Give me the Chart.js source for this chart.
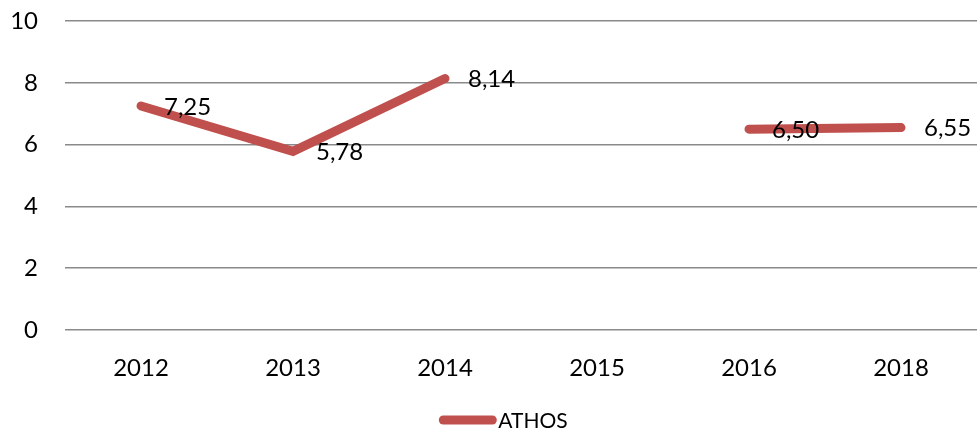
<!DOCTYPE html>
<html>
<head>
<meta charset="utf-8">
<script src="https://cdn.jsdelivr.net/npm/chart.js@4.4.0/dist/chart.umd.min.js"></script>
<style>
  html, body { margin: 0; padding: 0; background: #fff; }
  #wrap { width: 977px; height: 430px; }
</style>
</head>
<body>
<div id="wrap"><canvas id="athos-chart"></canvas></div>
<script>
const years = ['2012', '2013', '2014', '2015', '2016', '2018'];
const athosValues = [7.25, 5.78, 8.14, null, 6.50, 6.55];
const yTicks = [0, 2, 4, 6, 8, 10];
const seriesName = 'ATHOS';

const lineColor = '#C0504D';
const fontFamily = 'Lato, "Open Sans", sans-serif';

// values next to each point, comma as decimal mark
const valueLabels = {
    id: 'valueLabels',
    afterDatasetsDraw(chart) {
        const ctx = chart.ctx;
        const meta = chart.getDatasetMeta(0);
        ctx.save();
        ctx.font = '24px ' + fontFamily;
        ctx.fillStyle = '#000';
        ctx.textAlign = 'left';
        ctx.textBaseline = 'middle';
        meta.data.forEach((pt, i) => {
            const v = athosValues[i];
            if (v === null) return;
            ctx.fillText(v.toFixed(2).replace('.', ','), pt.x + 23, pt.y + 1);
        });
        ctx.restore();
    }
};

// legend under the axis: thick line sample + name
const bottomLegend = {
    id: 'bottomLegend',
    afterDraw(chart) {
        const ctx = chart.ctx;
        ctx.save();
        ctx.font = '21px ' + fontFamily;
        const textW = ctx.measureText(seriesName).width;
        const sampleW = 57;
        const total = sampleW + 2 + textW;
        const left = (chart.width - total) / 2 + 15;
        const y = chart.height - 10;
        ctx.strokeStyle = lineColor;
        ctx.lineWidth = 9;
        ctx.lineCap = 'round';
        ctx.beginPath();
        ctx.moveTo(left + 4, y);
        ctx.lineTo(left + sampleW - 4, y);
        ctx.stroke();
        ctx.fillStyle = '#000';
        ctx.textBaseline = 'middle';
        ctx.fillText(seriesName, left + sampleW + 2, y + 1);
        ctx.restore();
    }
};

const chart = new Chart(document.getElementById('athos-chart'), {
    type: 'line',
    data: {
        labels: years,
        datasets: [{
            label: seriesName,
            data: athosValues,
            borderColor: lineColor,
            backgroundColor: lineColor,
            borderWidth: 9,
            borderCapStyle: 'round',
            borderJoinStyle: 'miter',
            pointRadius: 0,
            pointHoverRadius: 0,
            spanGaps: false,
            tension: 0
        }]
    },
    options: {
        responsive: true,
        maintainAspectRatio: false,
        animation: false,
        layout: { padding: { top: 21, right: 0, bottom: 0, left: 0 } },
        plugins: {
            legend: { display: false },
            tooltip: { enabled: false }
        },
        scales: {
            x: {
                offset: true,
                grid: { display: false, drawTicks: false },
                border: { display: false },
                ticks: {
                    color: '#000',
                    font: { family: fontFamily, size: 24 },
                    padding: 24,
                    maxRotation: 0
                },
                afterFit(scale) { scale.height = 100; }
            },
            y: {
                min: 0,
                max: 10,
                afterBuildTicks(scale) { scale.ticks = yTicks.map(v => ({ value: v })); },
                grid: { color: '#8a8a8a', lineWidth: 1.5, drawTicks: false },
                border: { display: false },
                ticks: {
                    color: '#000',
                    font: { family: fontFamily, size: 24 },
                    padding: 27
                },
                afterFit(scale) {
                    scale.width = 65;
                    scale.paddingTop = 0;
                    scale.paddingBottom = 0;
                }
            }
        }
    },
    plugins: [valueLabels, bottomLegend]
});
</script>
</body>
</html>
